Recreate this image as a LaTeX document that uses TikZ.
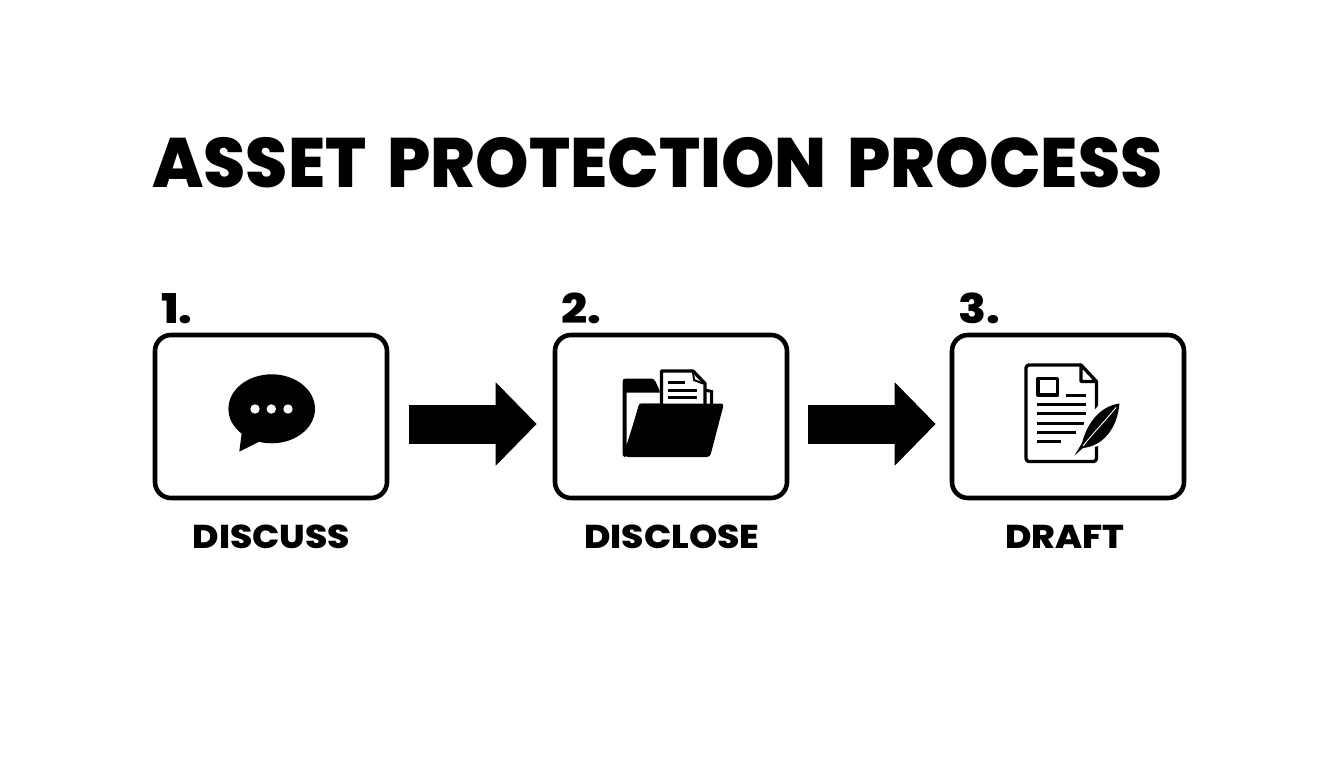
\documentclass[tikz,border=0pt]{standalone}
\usepackage{fontspec}
\usepackage{tikz}
\usepackage{xcolor}
\usetikzlibrary{arrows.meta}
\newfontfamily\headfont{Poppins}[UprightFont=* ExtraBold, WordSpace=1.6]

\tikzset{
    stepbox/.style={rectangle, draw, line width=4.6, rounded corners=16,
                    minimum width=232, minimum height=163, inner sep=0},
    steplabel/.style={anchor=base, inner sep=0, xscale=1.09, transform shape,
                      font=\headfont\fontsize{33}{33}\selectfont},
    stepnum/.style={anchor=base west, inner sep=0, xscale=1.12, transform shape,
                    font=\headfont\fontsize{41}{41}\selectfont},
    blockarrow/.style={-{Triangle[length=41pt, width=81pt]}, line width=39},
    icon/.style={line width=3.3, line join=round},
}

\begin{document}
\begin{tikzpicture}[x=1pt, y=-1pt]
\useasboundingbox (0,0) rectangle (1344,768);

\draw[black]
    (657.5,187) node[anchor=base, inner sep=0, xscale=0.972, transform shape,
                     font=\headfont\fontsize{70}{70}\selectfont](title) {ASSET PROTECTION PROCESS}
    (271,416.5) node[stepbox](discuss) {}
    (671,416.5) node[stepbox](disclose) {}
    (1068,416.5) node[stepbox](draft) {}
    (271.5,548) node[steplabel](discusslabel) {DISCUSS}
    (672,548) node[steplabel](discloselabel) {DISCLOSE}
    (1065,548) node[steplabel](draftlabel) {DRAFT}
    (161,323) node[stepnum](numone) {1.}
    (561,323) node[stepnum](numtwo) {2.}
    (958,323) node[stepnum](numthree) {3.}
    ;

\draw[blockarrow, shorten <=20, shorten >=16]
    ([yshift=-7.5]discuss.east) -- ([yshift=-7.5]disclose.west);
\draw[blockarrow, shorten <=19, shorten >=14]
    ([yshift=-7.5]disclose.east) -- ([yshift=-7.5]draft.west);

% speech bubble
\fill (271.7,408.8) ellipse [x radius=43.3, y radius=34.5];
\fill (241.7,433) -- (239.3,451.7) -- (259.3,441.7) -- cycle;
\foreach \dotx in {255,271.3,288}
    \fill[white] (\dotx,409) circle (4.7);

% folder
\fill[rounded corners=3] (622.5,378.5) -- (654,378.5) -- (660,391) -- (660,405) -- (640,405) -- (627,457) -- (622.5,457) -- cycle;
\fill[white] (626.5,392.5) -- (660,392.5) -- (660,403.5) -- (639.5,403.5) -- (626.5,445) -- cycle;
\draw[icon, fill=white] (661.5,405) -- (661.5,371) -- (693,371) -- (705,383.5) -- (705,405);
\draw[line width=3] (705,390) -- (711.5,391.5) -- (711.5,405);
\draw[line width=2] (693,372) -- (694,380) -- (703,383.5);
\draw[line width=3] (668,382.7) -- (685,382.7) (668,390) -- (696.5,390) (668,397.3) -- (696.5,397.3);
\fill[rounded corners=3] (639,403.5) -- (724,403.5) -- (710,457) -- (625,457) -- cycle;

% document and feather
\draw[icon, rounded corners=3] (1081,365) -- (1026,365) -- (1026,461.5) -- (1096.5,461.5) -- (1096.5,381.5);
\draw[icon] (1081,365) -- (1096.5,381.5) -- (1081,381.5) -- cycle;
\draw[icon] (1038,378.5) rectangle (1057.5,395);
\draw[line width=3]
    (1066,395) -- (1086,395)
    (1037,404.5) -- (1086,404.5)
    (1037,413.7) -- (1086,413.7)
    (1037,423) -- (1084,423)
    (1037,432.5) -- (1076,432.5)
    (1037,441.7) -- (1061,441.7);
\fill[white] (1122,401) -- (1100,404) -- (1085,420) -- (1076,452) -- (1098,446) -- (1116,428) -- cycle;
\fill (1119.5,403.5) .. controls (1102,406) and (1088,420) .. (1082,443) -- (1074.5,455.5) -- (1083,448) .. controls (1102,446) and (1117,430) .. (1119.5,403.5) -- cycle;
\draw[white, line width=0.9] (1116,407.5) .. controls (1106,420) and (1094,432) .. (1083,446);

\end{tikzpicture}
\end{document}
